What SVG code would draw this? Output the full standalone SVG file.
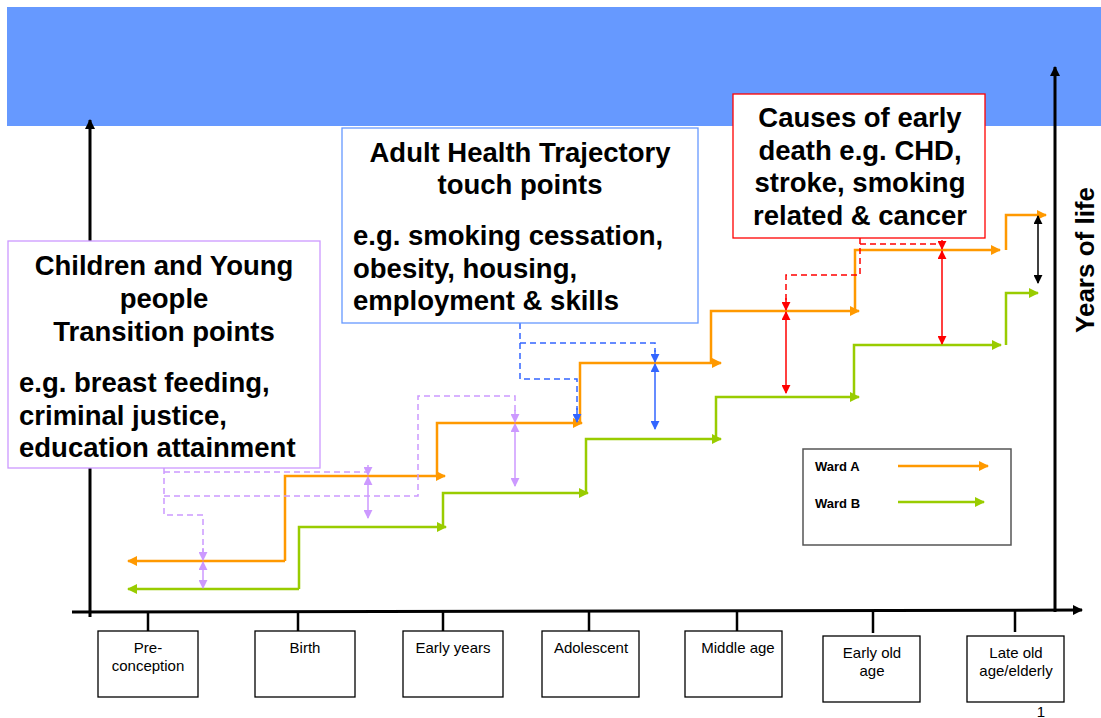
<svg xmlns="http://www.w3.org/2000/svg" width="1101" height="718" viewBox="0 0 1101 718">
<style>
.lbl{font-family:"Liberation Sans",Arial,sans-serif;font-size:15px;fill:#000}
.big{font-family:"Liberation Sans",Arial,sans-serif;font-size:27.5px;font-weight:bold;fill:#000}
.yl{font-family:"Liberation Sans",Arial,sans-serif;font-size:26px;font-weight:bold;fill:#000}
.leg{font-family:"Liberation Sans",Arial,sans-serif;font-size:13px;font-weight:bold;fill:#000}
.box{fill:#fff;stroke:#000;stroke-width:1.3}
.ax{stroke:#000;stroke-width:3;fill:none}
.tick{stroke:#000;stroke-width:2.5}
.or{stroke:#FF9900;stroke-width:2.5;fill:none}
.gr{stroke:#99CC00;stroke-width:2.5;fill:none}
.pd{stroke:#CC99FF;stroke-width:1.5;stroke-dasharray:6,4;fill:none}
.bd{stroke:#3366FF;stroke-width:1.5;stroke-dasharray:6,4;fill:none}
.rd{stroke:#FF0000;stroke-width:1.5;stroke-dasharray:6,4;fill:none}
.pa{stroke:#CC99FF;stroke-width:1.5;fill:none}
.ba{stroke:#3366FF;stroke-width:1.5;fill:none}
.ra{stroke:#FF0000;stroke-width:1.5;fill:none}
.ka{stroke:#000;stroke-width:1.5;fill:none}
</style>
<defs>
<marker id="mo" viewBox="0 0 10 10" refX="9" refY="5" markerWidth="10" markerHeight="10" markerUnits="userSpaceOnUse" orient="auto"><path d="M0,0 L10,5 L0,10 z" fill="#FF9900"/></marker>
<marker id="mg" viewBox="0 0 10 10" refX="9" refY="5" markerWidth="10" markerHeight="10" markerUnits="userSpaceOnUse" orient="auto"><path d="M0,0 L10,5 L0,10 z" fill="#99CC00"/></marker>
<marker id="mp" viewBox="0 0 10 10" refX="9" refY="5" markerWidth="9" markerHeight="9" markerUnits="userSpaceOnUse" orient="auto-start-reverse"><path d="M0,0 L10,5 L0,10 z" fill="#CC99FF"/></marker>
<marker id="mb" viewBox="0 0 10 10" refX="9" refY="5" markerWidth="9" markerHeight="9" markerUnits="userSpaceOnUse" orient="auto-start-reverse"><path d="M0,0 L10,5 L0,10 z" fill="#3366FF"/></marker>
<marker id="mr" viewBox="0 0 10 10" refX="9" refY="5" markerWidth="9" markerHeight="9" markerUnits="userSpaceOnUse" orient="auto-start-reverse"><path d="M0,0 L10,5 L0,10 z" fill="#FF0000"/></marker>
<marker id="mk" viewBox="0 0 10 10" refX="9" refY="5" markerWidth="9" markerHeight="9" markerUnits="userSpaceOnUse" orient="auto-start-reverse"><path d="M0,0 L10,5 L0,10 z" fill="#000"/></marker>
<marker id="max" viewBox="0 0 10 10" refX="9" refY="5" markerWidth="11" markerHeight="10" markerUnits="userSpaceOnUse" orient="auto"><path d="M0,0 L10,5 L0,10 z" fill="#000"/></marker>
</defs>
<rect x="7" y="7" width="1094" height="119" fill="#6699FF"/>
<g id="axes">
<line class="ax" x1="90" y1="617" x2="90" y2="120" marker-end="url(#max)"/>
<line class="ax" x1="1055" y1="612" x2="1055" y2="67" marker-end="url(#max)"/>
<line class="ax" x1="72" y1="612" x2="1082" y2="610" marker-end="url(#max)"/>
<text class="yl" transform="translate(1094,260) rotate(-90)" text-anchor="middle">Years of life</text>
</g>
<g id="ticks">
<line class="tick" x1="148" y1="611" x2="148" y2="631"/>
<line class="tick" x1="298" y1="611" x2="298" y2="631"/>
<line class="tick" x1="443" y1="611" x2="443" y2="631"/>
<line class="tick" x1="589" y1="611" x2="589" y2="631"/>
<line class="tick" x1="737" y1="611" x2="737" y2="631"/>
<line class="tick" x1="873" y1="611" x2="873" y2="633"/>
<line class="tick" x1="1015" y1="611" x2="1015" y2="632"/>
</g>
<g id="stage-preconception"><rect class="box" x="98" y="631" width="100" height="66"/><text class="lbl" x="148" y="653" text-anchor="middle">Pre-</text><text class="lbl" x="148" y="671" text-anchor="middle">conception</text></g>
<g id="stage-birth"><rect class="box" x="255" y="631" width="100" height="66"/><text class="lbl" x="305" y="653" text-anchor="middle">Birth</text></g>
<g id="stage-early-years"><rect class="box" x="403" y="631" width="100" height="66"/><text class="lbl" x="453" y="653" text-anchor="middle">Early years</text></g>
<g id="stage-adolescent"><rect class="box" x="542" y="631" width="97" height="66"/><text class="lbl" x="591" y="653" text-anchor="middle">Adolescent</text></g>
<g id="stage-middle-age"><rect class="box" x="685" y="631" width="97" height="66"/><text class="lbl" x="738" y="653" text-anchor="middle">Middle age</text></g>
<g id="stage-early-old-age"><rect class="box" x="823" y="636" width="97" height="66"/><text class="lbl" x="872" y="658" text-anchor="middle">Early old</text><text class="lbl" x="872" y="676" text-anchor="middle">age</text></g>
<g id="stage-late-old-age"><rect class="box" x="967" y="636" width="97" height="66"/><text class="lbl" x="1016" y="658" text-anchor="middle">Late old</text><text class="lbl" x="1016" y="676" text-anchor="middle">age/elderly</text></g>
<text class="lbl" x="1041" y="717" text-anchor="middle" font-size="16">1</text>
<g id="connectors">
<polyline class="or" points="285,561 128,561" marker-end="url(#mo)"/>
<polyline class="or" points="285,561 285,476 445,476" marker-end="url(#mo)"/>
<polyline class="or" points="437,476 437,423 582,423" marker-end="url(#mo)"/>
<polyline class="or" points="580,423 580,363 721,363" marker-end="url(#mo)"/>
<polyline class="or" points="711,363 711,311 859,311" marker-end="url(#mo)"/>
<polyline class="or" points="855,311 855,250 1000,250" marker-end="url(#mo)"/>
<polyline class="or" points="1006,250 1006,215 1046,215" marker-end="url(#mo)"/>
<polyline class="gr" points="299,589 128,589" marker-end="url(#mg)"/>
<polyline class="gr" points="299,589 299,527 446,527" marker-end="url(#mg)"/>
<polyline class="gr" points="443,527 443,493 588,493" marker-end="url(#mg)"/>
<polyline class="gr" points="586,493 586,439 721,439" marker-end="url(#mg)"/>
<polyline class="gr" points="716,439 716,397 859,397" marker-end="url(#mg)"/>
<polyline class="gr" points="854,397 854,345 1001,345" marker-end="url(#mg)"/>
<polyline class="gr" points="1006,345 1006,293 1038,293" marker-end="url(#mg)"/>
<polyline class="pd" points="164,468 164,515 203,515 203,553"/>
<polyline class="pd" points="164,472 368,472"/>
<polyline class="pd" points="164,496 418,496 418,396 515,396 515,413"/>
<line class="pa" x1="203" y1="548" x2="203" y2="560" marker-end="url(#mp)"/>
<line class="pa" x1="368" y1="465" x2="368" y2="475" marker-end="url(#mp)"/>
<line class="pa" x1="515" y1="410" x2="515" y2="422" marker-end="url(#mp)"/>
<line class="pa" x1="203" y1="562" x2="203" y2="588" marker-start="url(#mp)" marker-end="url(#mp)"/>
<line class="pa" x1="368" y1="477" x2="368" y2="518" marker-start="url(#mp)" marker-end="url(#mp)"/>
<line class="pa" x1="515" y1="424" x2="515" y2="486" marker-start="url(#mp)" marker-end="url(#mp)"/>
<polyline class="bd" points="520,323 520,343 655,343 655,352"/>
<polyline class="bd" points="520,343 520,379 577,379 577,410"/>
<line class="ba" x1="655" y1="350" x2="655" y2="362" marker-end="url(#mb)"/>
<line class="ba" x1="577" y1="408" x2="577" y2="422" marker-end="url(#mb)"/>
<line class="ba" x1="655" y1="364" x2="655" y2="429" marker-start="url(#mb)" marker-end="url(#mb)"/>
<polyline class="rd" points="860,238 860,275 786,275 786,300"/>
<polyline class="rd" points="860,244 942,244"/>
<line class="ra" x1="786" y1="298" x2="786" y2="310" marker-end="url(#mr)"/>
<line class="ra" x1="942" y1="240" x2="942" y2="249" marker-end="url(#mr)"/>
<line class="ra" x1="786" y1="312" x2="786" y2="393" marker-start="url(#mr)" marker-end="url(#mr)"/>
<line class="ra" x1="942" y1="251" x2="942" y2="344" marker-start="url(#mr)" marker-end="url(#mr)"/>
<line class="ka" x1="1038" y1="216" x2="1038" y2="283" marker-start="url(#mk)" marker-end="url(#mk)"/>
</g>
<g id="box-children">
<rect x="8" y="241" width="312" height="227" fill="#fff" stroke="#CC99FF" stroke-width="1.3"/>
<text class="big" x="164" y="275" text-anchor="middle">Children and Young</text>
<text class="big" x="164" y="308" text-anchor="middle">people</text>
<text class="big" x="164" y="341" text-anchor="middle">Transition points</text>
<text class="big" x="19" y="392">e.g. breast feeding,</text>
<text class="big" x="19" y="425">criminal justice,</text>
<text class="big" x="19" y="457">education attainment</text>
</g>
<g id="box-adult">
<rect x="342" y="128" width="356" height="195" fill="#fff" stroke="#6699FF" stroke-width="1.3"/>
<text class="big" x="520" y="162" text-anchor="middle">Adult Health Trajectory</text>
<text class="big" x="520" y="194" text-anchor="middle">touch points</text>
<text class="big" x="353" y="245">e.g. smoking cessation,</text>
<text class="big" x="353" y="278">obesity, housing,</text>
<text class="big" x="353" y="310">employment &amp; skills</text>
</g>
<g id="box-causes">
<rect x="733" y="94" width="252" height="144" fill="#fff" stroke="#FF0000" stroke-width="1.3"/>
<text class="big" x="860" y="127" text-anchor="middle">Causes of early</text>
<text class="big" x="860" y="160" text-anchor="middle">death e.g. CHD,</text>
<text class="big" x="860" y="192" text-anchor="middle">stroke, smoking</text>
<text class="big" x="860" y="225" text-anchor="middle">related &amp; cancer</text>
</g>
<g id="legend">
<rect x="803" y="449" width="208" height="96" fill="#fff" stroke="#555" stroke-width="1.5"/>
<text class="leg" x="815" y="471">Ward A</text>
<text class="leg" x="815" y="508">Ward B</text>
<line class="or" x1="898" y1="466" x2="988" y2="466" marker-end="url(#mo)"/>
<line class="gr" x1="898" y1="502" x2="984" y2="502" marker-end="url(#mg)"/>
</g>
</svg>
